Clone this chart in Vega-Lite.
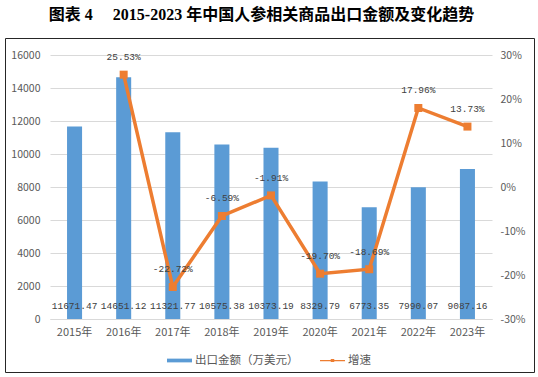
{
  "$schema": "https://vega.github.io/schema/vega-lite/v6.json",
  "width": 529,
  "height": 334,
  "autosize": {"type": "none"},
  "padding": {"left": 5, "top": 38, "right": 4, "bottom": 5},
  "background": "white",
  "title": {
    "text": "图表 4　     2015-2023 年中国人参相关商品出口金额及变化趋势",
    "font": "Liberation Serif, Noto Sans CJK SC",
    "fontSize": 16,
    "fontWeight": "bold",
    "color": "#000000",
    "anchor": "middle",
    "frame": "group",
    "offset": 15,
    "dx": -8
  },
  "data": {
    "values": [
      {"year": "2015年", "amount": 11671.47, "growth": null},
      {"year": "2016年", "amount": 14651.12, "growth": 0.2553},
      {"year": "2017年", "amount": 11321.77, "growth": -0.2272},
      {"year": "2018年", "amount": 10575.38, "growth": -0.0659},
      {"year": "2019年", "amount": 10373.19, "growth": -0.0191},
      {"year": "2020年", "amount": 8329.79, "growth": -0.197},
      {"year": "2021年", "amount": 6773.35, "growth": -0.1869},
      {"year": "2022年", "amount": 7990.07, "growth": 0.1796},
      {"year": "2023年", "amount": 9087.16, "growth": 0.1373}
    ]
  },
  "encoding": {
    "x": {
      "field": "year",
      "type": "nominal",
      "sort": null,
      "scale": {"range": [45, 487], "paddingInner": 0.694, "paddingOuter": 0.347},
      "axis": {
        "title": null,
        "orient": "bottom",
        "offset": -53,
        "labelPadding": 7,
        "labelFontSize": 11,
        "labelAngle": 0,
        "domain": true,
        "domainColor": "#d9d9d9",
        "domainWidth": 1,
        "ticks": false,
        "tickSize": 0,
        "grid": false
      }
    }
  },
  "layer": [
    {
      "layer": [
        {
          "mark": {"type": "bar"},
          "encoding": {
            "y": {
              "field": "amount",
              "type": "quantitative",
              "scale": {"domain": [0, 16000], "range": [281, 17], "nice": false, "zero": true},
              "axis": {
                "title": null,
                "orient": "left",
                "offset": -35,
                "values": [0, 2000, 4000, 6000, 8000, 10000, 12000, 14000, 16000],
                "format": ".0f",
                "labelPadding": 0,
                "labelFontSize": 10.5,
                "ticks": false,
                "tickSize": 0,
                "domain": false,
                "grid": true,
                "gridColor": "#d9d9d9",
                "gridWidth": 1
              }
            },
            "color": {
              "datum": "出口金额（万美元）",
              "type": "nominal",
              "scale": {"domain": ["出口金额（万美元）", "增速"], "range": ["#5b9bd5", "#ed7d31"]},
              "legend": {
                "orient": "none",
                "legendX": 162,
                "legendY": 310,
                "direction": "horizontal",
                "columns": 2,
                "title": null,
                "symbolSize": 625,
                "symbolStrokeWidth": 0,
                "labelFont": "Noto Sans CJK SC",
                "labelFontSize": 11.5,
                "labelColor": "#595959",
                "labelOffset": 3,
                "columnPadding": 21,
                "padding": 0,
                "encode": {
                  "symbols": {
                    "update": {
                      "shape": {"signal": "datum.value === '增速' ? 'M-1,-0.05H1V0.05H-1Z M-0.14,-0.12H0.14V0.12H-0.14Z' : 'M-1,-0.15H1V0.15H-1Z'"},
                      "fill": {"scale": "color", "field": "value"},
                      "strokeWidth": {"value": 0},
                      "opacity": {"value": 1}
                    }
                  }
                }
              }
            }
          }
        },
        {
          "mark": {"type": "text", "dy": -13, "baseline": "middle", "align": "center", "font": "Liberation Mono", "fontSize": 9.5, "color": "#404040"},
          "encoding": {
            "y": {
              "datum": 0,
              "type": "quantitative",
              "axis": {
                "title": null,
                "orient": "left",
                "offset": -35,
                "values": [0, 2000, 4000, 6000, 8000, 10000, 12000, 14000, 16000],
                "format": ".0f",
                "labelPadding": 0,
                "labelFontSize": 10.5,
                "ticks": false,
                "tickSize": 0,
                "domain": false,
                "grid": true,
                "gridColor": "#d9d9d9",
                "gridWidth": 1
              }
            },
            "text": {"field": "amount", "type": "quantitative", "format": ".2f"}
          }
        }
      ]
    },
    {
      "transform": [{"filter": "datum.growth != null"}],
      "encoding": {
        "y": {
          "field": "growth",
          "type": "quantitative",
          "scale": {"domain": [-0.3, 0.3], "range": [281, 17], "nice": false, "zero": false},
          "axis": {
            "title": null,
            "orient": "right",
            "offset": -34,
            "values": [-0.3, -0.2, -0.1, 0, 0.1, 0.2, 0.3],
            "format": ".0%",
            "labelPadding": 0,
            "labelFontSize": 10.5,
            "ticks": false,
            "tickSize": 0,
            "domain": false,
            "grid": false
          }
        }
      },
      "layer": [
        {
          "mark": {"type": "line", "strokeWidth": 3.5, "point": {"shape": "square", "size": 64, "filled": true}},
          "encoding": {"color": {"datum": "增速", "type": "nominal"}}
        },
        {
          "mark": {"type": "text", "dy": -17.5, "baseline": "middle", "align": "center", "font": "Liberation Mono", "fontSize": 9.5, "color": "#404040"},
          "encoding": {
            "text": {"field": "growth", "type": "quantitative", "format": ".2%"}
          }
        }
      ]
    }
  ],
  "resolve": {"scale": {"y": "independent"}},
  "config": {
    "locale": {"number": {"decimal": ".", "thousands": ",", "grouping": [3], "currency": ["", ""], "minus": "-"}},
    "view": {"stroke": "#262626", "strokeWidth": 1},
    "axis": {"labelFont": "Noto Sans CJK SC", "labelColor": "#595959"}
  }
}
